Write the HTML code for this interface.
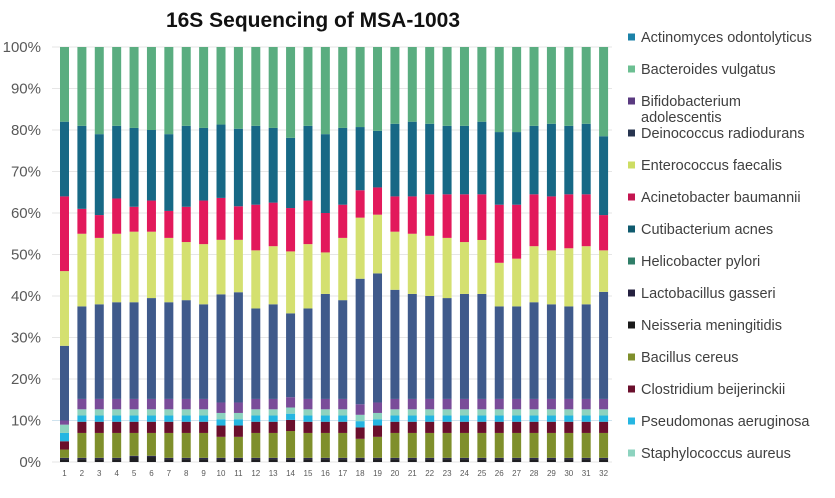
<!DOCTYPE html>
<html><head><meta charset="utf-8"><style>
body{margin:0;background:#fff;width:835px;height:493px;overflow:hidden;font-family:"Liberation Sans",Arial,sans-serif}
</style></head><body>
<svg id="chart" width="835" height="493" xmlns="http://www.w3.org/2000/svg">
<text x="313" y="27" text-anchor="middle" font-size="21" font-weight="bold" fill="#111">16S Sequencing of MSA-1003</text>
<g id="grid"></g><g id="bars"></g><g id="xlabels"></g><g id="legend"></g>
</svg>
<script>
const categories = Array.from({length:32},(_,i)=>String(i+1));
const yTicks = ["0%","10%","20%","30%","40%","50%","60%","70%","80%","90%","100%"];
const neisseria = [0.7,0.7,0.7,0.7,1.2,1.2,0.7,0.7,0.7,0.7,0.7,0.7,0.7,0.7,0.7,0.7,0.7,0.7,0.7,0.7,0.7,0.7,0.7,0.7,0.7,0.7,0.7,0.7,0.7,0.7,0.7,0.7];
const lactobacillus = [0.3,0.3,0.3,0.3,0.3,0.3,0.3,0.3,0.3,0.3,0.3,0.3,0.3,0.3,0.3,0.3,0.3,0.3,0.3,0.3,0.3,0.3,0.3,0.3,0.3,0.3,0.3,0.3,0.3,0.3,0.3,0.3];
const bacillus = [2,6,6,6,5.5,5.5,6,6,6,5,5,6,6,6.5,6,6,6,4.5,5,6,6,6,6,6,6,6,6,6,6,6,6,6];
const clostridium = [2,2.7,2.7,2.7,2.7,2.7,2.7,2.7,2.7,2.7,2.7,2.7,2.7,2.7,2.7,2.7,2.7,2.7,2.7,2.7,2.7,2.7,2.7,2.7,2.7,2.7,2.7,2.7,2.7,2.7,2.7,2.7];
const pseudomonas = [2,1.5,1.5,1.5,1.5,1.5,1.5,1.5,1.5,1.5,1.5,1.5,1.5,1.5,1.5,1.5,1.5,1.5,1.5,1.5,1.5,1.5,1.5,1.5,1.5,1.5,1.5,1.5,1.5,1.5,1.5,1.5];
const staphylococcus = [2,1.5,1.5,1.5,1.5,1.5,1.5,1.5,1.5,1.5,1.5,1.5,1.5,1.5,1.5,1.5,1.5,1.5,1.5,1.5,1.5,1.5,1.5,1.5,1.5,1.5,1.5,1.5,1.5,1.5,1.5,1.5];
const bifidobacterium = [1,2.5,2.5,2.5,2.5,2.5,2.5,2.5,2.5,2.5,2.5,2.5,2.5,2.5,2.5,2.5,2.5,2.5,2.5,2.5,2.5,2.5,2.5,2.5,2.5,2.5,2.5,2.5,2.5,2.5,2.5,2.5];
const helicobacter = new Array(32).fill(0);
const deinococcus = [18,22.3,22.8,23.3,23.3,24.3,23.3,23.8,22.8,25.8,26.3,21.8,22.8,20.3,21.8,25.3,23.8,29.8,30.8,26.3,25.3,24.8,24.3,25.3,25.3,22.3,22.3,23.3,22.8,22.3,22.8,25.8];
const enterococcus = [18,17.5,16,16.5,17,16,15.5,14,14.5,13,12.5,14,14,15,15.5,10,15,14.5,14,14,14.5,14.5,14.5,12.5,13,10.5,11.5,13.5,13,14,14,10];
const acinetobacter = [18,6,5.5,8.5,6,7.5,6.5,8.5,10.5,10,8,11,10.5,10.5,10.5,9.5,8,6.5,6.5,8.5,9,10,10.5,11.5,11,14,13,12.5,13,13,12.5,8.5];
const cutibacterium = [18,20,19.5,17.5,19,17,18.5,19.5,17.5,17.5,18.5,19,18,17,18,19,18.5,15,13.5,17.5,18,17,16.5,16.5,17.5,17.5,17.5,16.5,17.5,16.5,17,19];
const actinomyces = new Array(32).fill(0);
const bacteroides = [18,19,21,19,19.5,20,21,19,19.5,18.5,19.5,19,19.5,22,19,21,19.5,19,20,18.5,18,18.5,19,19,18,20.5,20.5,19,18.5,19,18.5,21.5];

const stack = [
 ["Neisseria meningitidis",neisseria,"#1e1e22"],
 ["Lactobacillus gasseri",lactobacillus,"#2b2a4c"],
 ["Bacillus cereus",bacillus,"#7f8f2c"],
 ["Clostridium beijerinckii",clostridium,"#6a0f2c"],
 ["Pseudomonas aeruginosa",pseudomonas,"#25b6e2"],
 ["Staphylococcus aureus",staphylococcus,"#8dd3bf"],
 ["Bifidobacterium adolescentis",bifidobacterium,"#7a4c99"],
 ["Helicobacter pylori",helicobacter,"#2f7e68"],
 ["Deinococcus radiodurans",deinococcus,"#3f5a8b"],
 ["Enterococcus faecalis",enterococcus,"#d4e070"],
 ["Acinetobacter baumannii",acinetobacter,"#e2195b"],
 ["Cutibacterium acnes",cutibacterium,"#176885"],
 ["Actinomyces odontolyticus",actinomyces,"#1c82a8"],
 ["Bacteroides vulgatus",bacteroides,"#5aad80"]
];
const legendOrder = [
 ["Actinomyces odontolyticus","#1c82a8"],["Bacteroides vulgatus","#6cbf92"],
 ["Bifidobacterium|adolescentis","#5a3a80"],["Deinococcus radiodurans","#27344f"],
 ["Enterococcus faecalis","#cddd63"],["Acinetobacter baumannii","#c41550"],
 ["Cutibacterium acnes","#0f5a6e"],["Helicobacter pylori","#2f7e68"],
 ["Lactobacillus gasseri","#24203f"],["Neisseria meningitidis","#1a1a1a"],
 ["Bacillus cereus","#7f8f2c"],["Clostridium beijerinckii","#6a0f2c"],
 ["Pseudomonas aeruginosa","#25b6e2"],["Staphylococcus aureus","#8dd3bf"]
];
const NS="http://www.w3.org/2000/svg";
const y0=462,y1=47,x0=64.5,step=17.39,bw=9;
const yScale=v=>y0-(v/100)*(y0-y1);
const xScale=i=>x0+i*step;
function mk(t,a,p){const e=document.createElementNS(NS,t);for(const k in a)e.setAttribute(k,a[k]);p.appendChild(e);return e;}
const grid=document.getElementById('grid');
yTicks.forEach((t,i)=>{
 const y=yScale(i*10);
 const l=mk('line',{x1:52,x2:612,y1:y,y2:y,stroke:i==1?'#cfe3ee':'#e6e6e6','stroke-width':1},grid);
 
 
 const tx=mk('text',{x:41,y:y+5,'text-anchor':'end','font-size':15,fill:'#595959'},grid);
 tx.textContent=t;
 
 
});
const bars=document.getElementById('bars');
categories.forEach((c,i)=>{
 let cum=0;const cx=xScale(i);
 const total=stack.reduce((a,s)=>a+s[1][i],0)||1;
 stack.forEach(s=>{
  const v=s[1][i]/total*100;if(!v){return;}
  const top=yScale(cum+v),bot=yScale(cum);
  const r=mk('rect',{x:cx-bw/2,y:top,width:bw,height:bot-top,fill:s[2]},bars);
  
  
  cum+=v;
 });
 const t=mk('text',{x:cx,y:476,'text-anchor':'middle','font-size':8,fill:'#595959'},document.getElementById('xlabels'));
 t.textContent=c;
 
 
});
const lg=document.getElementById('legend');
let ly=37;
legendOrder.forEach(([n,col])=>{
 const parts=n.split('|');
 const g=mk('g',{},lg);
 
 
 mk('rect',{x:628,y:ly-3.5,width:7,height:7,fill:col},g);
 parts.forEach((p,k)=>{const t=mk('text',{x:641,y:ly+5+k*16,'font-size':14.5,fill:'#404040'},g);t.textContent=p;});
 ly+=32;
});
</script>
</body></html>
